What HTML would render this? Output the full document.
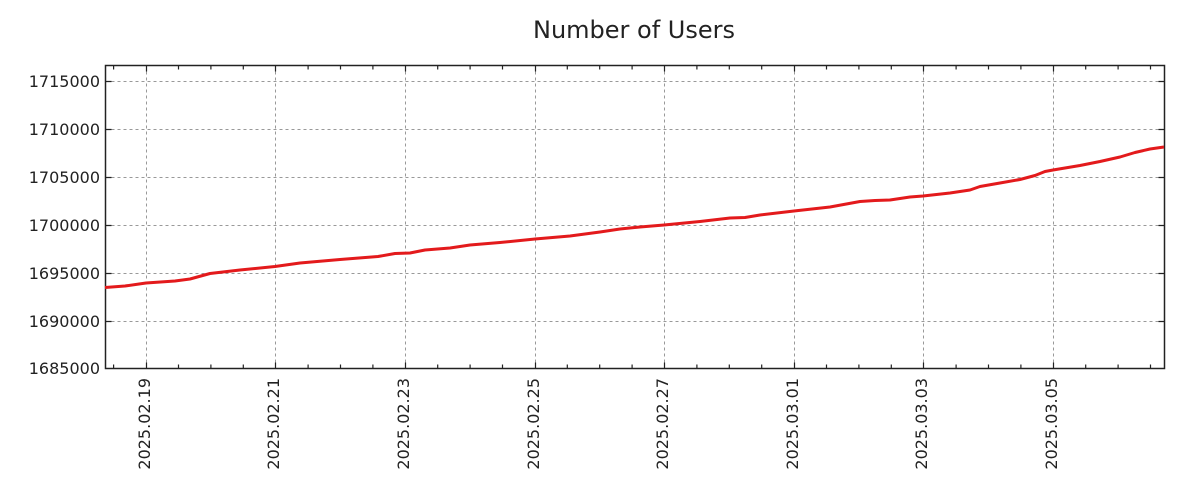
<!DOCTYPE html>
<html><head><meta charset="utf-8"><style>body{margin:0;background:#fff}svg{display:block}text{font-family:"DejaVu Sans","Liberation Sans",sans-serif;fill:#222}</style></head>
<body>
<svg width="1200" height="500" viewBox="0 0 1200 500">
<text x="634" y="38" font-size="24" text-anchor="middle">Number of Users</text>
<g stroke="#999" stroke-width="1" stroke-dasharray="3,3" fill="none">
<path d="M105.5 81.5H1164.5M105.5 129.5H1164.5M105.5 177.5H1164.5M105.5 225.5H1164.5M105.5 273.5H1164.5M105.5 321.5H1164.5"/>
<path d="M146.5 65.5V368.5M275.5 65.5V368.5M405.5 65.5V368.5M535.5 65.5V368.5M664.5 65.5V368.5M794.5 65.5V368.5M923.5 65.5V368.5M1053.5 65.5V368.5"/>
</g>
<g stroke="#222" stroke-width="1.2">
<path d="M105.5 81.5h6M105.5 129.5h6M105.5 177.5h6M105.5 225.5h6M105.5 273.5h6M105.5 321.5h6M1164.5 81.5h-6M1164.5 129.5h-6M1164.5 177.5h-6M1164.5 225.5h-6M1164.5 273.5h-6M1164.5 321.5h-6"/>
<path id="tk" d="M113.6 65.5v4M146.5 65.5v6M178.5 65.5v4M210.9 65.5v4M243.3 65.5v4M275.5 65.5v6M308.1 65.5v4M340.5 65.5v4M372.9 65.5v4M405.5 65.5v6M437.7 65.5v4M470.1 65.5v4M502.5 65.5v4M535.5 65.5v6M567.3 65.5v4M599.7 65.5v4M632.1 65.5v4M664.5 65.5v6M696.9 65.5v4M729.3 65.5v4M761.7 65.5v4M794.5 65.5v6M826.5 65.5v4M858.9 65.5v4M891.3 65.5v4M923.5 65.5v6M956.1 65.5v4M988.5 65.5v4M1020.9 65.5v4M1053.5 65.5v6M1085.7 65.5v4M1118.1 65.5v4M1150.5 65.5v4"/>
<use href="#tk" transform="translate(0,434) scale(1,-1)"/>
</g>
<rect x="105.5" y="65.5" width="1059" height="303" fill="none" stroke="#222" stroke-width="1.5"/>
<g font-size="16" text-anchor="end">
<text x="100" y="87">1715000</text><text x="100" y="135">1710000</text><text x="100" y="183">1705000</text><text x="100" y="231">1700000</text><text x="100" y="279">1695000</text><text x="100" y="327">1690000</text><text x="100" y="374">1685000</text>
</g>
<g font-size="16" text-anchor="end">
<text transform="translate(150,378) rotate(-90)">2025.02.19</text>
<text transform="translate(279,378) rotate(-90)">2025.02.21</text>
<text transform="translate(409,378) rotate(-90)">2025.02.23</text>
<text transform="translate(539,378) rotate(-90)">2025.02.25</text>
<text transform="translate(668,378) rotate(-90)">2025.02.27</text>
<text transform="translate(798,378) rotate(-90)">2025.03.01</text>
<text transform="translate(927,378) rotate(-90)">2025.03.03</text>
<text transform="translate(1057,378) rotate(-90)">2025.03.05</text>
</g>
<polyline fill="none" stroke="#e31a1c" stroke-width="3" stroke-linejoin="round" points="105,287.5 125,286 146,283 175,281 190,279 210,273.5 240,270 275,266.5 300,263 340,259.5 378,256.5 395,253.5 410,253 425,250 450,248 470,245 500,242.5 535,239 570,236 600,232 620,229 640,227 664,225 700,221.5 730,218 745,217.5 760,215 794,211 830,207 860,201.5 875,200.5 890,200 910,197 923,196 950,193 970,190 980,186.5 1000,183 1020,179.5 1035,175.5 1045,171.5 1053,170 1080,165.5 1100,161.5 1120,157 1135,152.5 1150,149 1164,147"/>
</svg>
</body></html>
